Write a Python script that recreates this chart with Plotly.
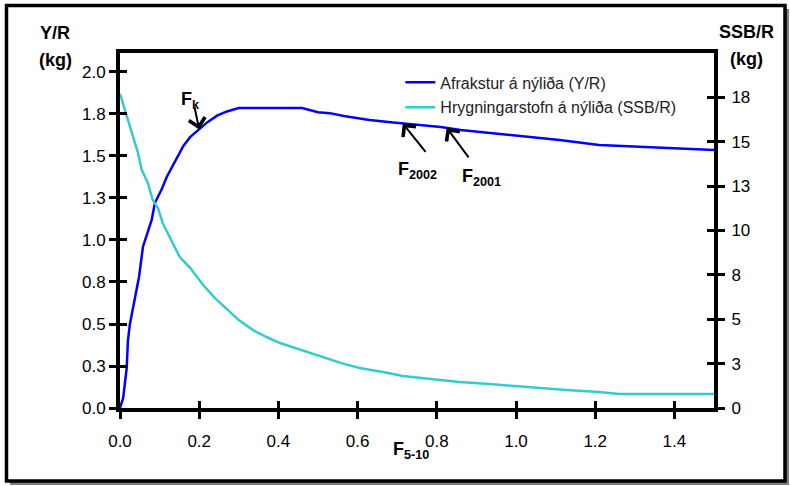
import plotly.graph_objects as go
import numpy as np

# Fishing mortality F(5-10)
f_yr = [0.0, 0.008, 0.017, 0.02, 0.025, 0.035, 0.048, 0.058, 0.07, 0.08, 0.088,
        0.105, 0.118, 0.13, 0.146, 0.16, 0.177, 0.20, 0.22, 0.245, 0.27, 0.30,
        0.46, 0.50, 0.53, 0.565, 0.60, 0.63, 0.69, 0.73, 0.81, 0.86, 0.97,
        1.11, 1.21, 1.40, 1.50]
# Yield per recruit (kg)
yr = [0.0, 0.06, 0.24, 0.40, 0.50, 0.62, 0.78, 0.96, 1.05, 1.12, 1.22,
      1.30, 1.375, 1.43, 1.505, 1.56, 1.612, 1.658, 1.70, 1.74, 1.765, 1.786,
      1.786, 1.76, 1.755, 1.738, 1.726, 1.714, 1.70, 1.69, 1.673, 1.655, 1.63,
      1.595, 1.565, 1.547, 1.536]

f_ssb = [0.0, 0.02, 0.033, 0.045, 0.055, 0.07, 0.083, 0.096, 0.108, 0.13, 0.151,
         0.177, 0.21, 0.24, 0.277, 0.30, 0.336, 0.37, 0.404, 0.446, 0.47, 0.513,
         0.563, 0.605, 0.664, 0.714, 0.782, 0.81, 0.857, 0.933, 0.99, 1.05,
         1.127, 1.21, 1.26, 1.50]
# Spawning stock biomass per recruit (kg)
ssb = [17.7, 16.2, 15.3, 14.4, 13.4, 12.7, 11.7, 11.26, 10.4, 9.46, 8.5,
       7.9, 6.93, 6.19, 5.4, 4.95, 4.39, 4.0, 3.66, 3.35, 3.15, 2.85,
       2.5, 2.25, 2.03, 1.8, 1.63, 1.58, 1.46, 1.35, 1.24, 1.13,
       1.01, 0.90, 0.79, 0.79]

x_ticks = [0.0, 0.2, 0.4, 0.6, 0.8, 1.0, 1.2, 1.4]
x_ticktext = ["0.0", "0.2", "0.4", "0.6", "0.8", "1.0", "1.2", "1.4"]
y_ticks = [0.0, 0.25, 0.5, 0.75, 1.0, 1.25, 1.5, 1.75, 2.0]
y_ticktext = ["0.0", "0.3", "0.5", "0.8", "1.0", "1.3", "1.5", "1.8", "2.0"]
y2_ticks = [0.0, 2.5, 5.0, 7.5, 10.0, 12.5, 15.0, 17.5]
y2_ticktext = ["0", "3", "5", "8", "10", "13", "15", "18"]

# Reference points marked on the yield curve
ref_names = ["F<sub>k</sub>", "F<sub>2002</sub>", "F<sub>2001</sub>"]
ref_f = [0.20, 0.714, 0.825]

names = ["Afrakstur á nýliða (Y/R)", "Hrygningarstofn á nýliða (SSB/R)"]

FONT = "Liberation Sans, Arial, sans-serif"
BLUE = "#0000FF"
CYAN = "#33CCCC"

fig = go.Figure()
fig.add_trace(go.Scatter(x=f_yr, y=yr, mode="lines", name=names[0],
                         line=dict(color=BLUE, width=2.5), legendgroup="a",
                         xaxis="x", yaxis="y"))
fig.add_trace(go.Scatter(x=f_ssb, y=ssb, mode="lines", name=names[1],
                         line=dict(color=CYAN, width=2.5), legendgroup="b",
                         xaxis="x", yaxis="y2"))
# empty traces that carry the inward tick marks
fig.add_trace(go.Scatter(x=[], y=[], xaxis="x3", yaxis="y3", showlegend=False, hoverinfo="skip"))
fig.add_trace(go.Scatter(x=[], y=[], xaxis="x3", yaxis="y4", showlegend=False, hoverinfo="skip"))

XR = [0, 1.5]
YR = [0, 2.113]
Y2R = [0, 20]
tickfont = dict(family=FONT, size=17, color="#000")

fig.update_layout(
    width=790, height=486,
    margin=dict(l=120, r=76, t=53, b=78),
    paper_bgcolor="white",
    plot_bgcolor="#FFFFCC",
    showlegend=True,
    legend=dict(x=0.472, y=0.965, xanchor="left", yanchor="top",
                bgcolor="rgba(0,0,0,0)", font=dict(family=FONT, size=16, color="#222"),
                traceorder="grouped", tracegroupgap=1),
    xaxis=dict(range=XR, tickvals=x_ticks, ticktext=x_ticktext, ticks="outside",
               ticklen=7, tickwidth=3, tickcolor="#000", showline=True, linewidth=4,
               linecolor="#000", mirror=True, showgrid=False, zeroline=False,
               tickfont=tickfont, ticklabelstandoff=8, anchor="y"),
    yaxis=dict(range=YR, tickvals=y_ticks, ticktext=y_ticktext, ticks="outside",
               ticklen=7, tickwidth=3, tickcolor="#000", showline=True, linewidth=4,
               linecolor="#000", showgrid=False, zeroline=False, tickfont=tickfont,
               anchor="x"),
    yaxis2=dict(range=Y2R, tickvals=y2_ticks, ticktext=y2_ticktext, ticks="outside",
                ticklen=7, tickwidth=3, tickcolor="#000", showline=True, linewidth=4,
                linecolor="#000", showgrid=False, zeroline=False, tickfont=tickfont,
                overlaying="y", side="right", anchor="x", ticklabelstandoff=3),
    xaxis3=dict(range=XR, tickvals=x_ticks, ticks="inside", ticklen=7, tickwidth=3,
                tickcolor="#000", showticklabels=False, showline=False, showgrid=False,
                zeroline=False, overlaying="x", anchor="y"),
    yaxis3=dict(range=YR, tickvals=y_ticks, ticks="inside", ticklen=7, tickwidth=3,
                tickcolor="#000", showticklabels=False, showline=False, showgrid=False,
                zeroline=False, overlaying="y", anchor="x"),
    yaxis4=dict(range=Y2R, tickvals=y2_ticks, ticks="inside", ticklen=7, tickwidth=3,
                tickcolor="#000", showticklabels=False, showline=False, showgrid=False,
                zeroline=False, overlaying="y", side="right", anchor="x"),
)

# Outer chart frame with drop shadow (paper coords relative to the plot area)
W, H = 594.0, 355.0
def px(xp):
    return (xp - 120) / W
def py(yp):
    return (408 - yp) / H

fig.add_shape(type="rect", xref="paper", yref="paper", layer="below",
              x0=px(10), x1=px(789), y0=py(485), y1=py(9),
              fillcolor="#7f7f7f", line=dict(width=0))
fig.add_shape(type="rect", xref="paper", yref="paper", layer="below",
              x0=px(6.5), x1=px(785), y0=py(481), y1=py(5.5),
              fillcolor="white", line=dict(color="#000", width=3.5))

ann = []
# Axis titles
bold = dict(family=FONT, size=18, color="#000")
for txt, xp, yp in [("<b>Y/R</b>", 55, 33), ("<b>(kg)</b>", 55, 60),
                    ("<b>SSB/R</b>", 746, 32), ("<b>(kg)</b>", 746, 59)]:
    ann.append(dict(text=txt, xref="paper", yref="paper", x=px(xp), y=py(yp),
                    xanchor="center", yanchor="middle", showarrow=False, font=bold))
ann.append(dict(text="<b>F<sub>5-10</sub></b>", xref="paper", yref="paper",
                x=px(391), y=py(450), xanchor="left", yanchor="middle",
                showarrow=False, font=bold))

# Arrows pointing at the reference F values on the yield curve
tails = [(-5, -24), (24, 30), (23, 31)]
label_pos = [(179, 100), (396, 170), (460, 177)]
for name, fv, (axp, ayp), (lx, ly) in zip(ref_names, ref_f, tails, label_pos):
    yv = float(np.interp(fv, f_yr, yr))
    ann.append(dict(text="", x=fv, y=yv, xref="x", yref="y", ax=axp, ay=ayp,
                    showarrow=True, arrowhead=4, arrowsize=1.6, arrowwidth=2,
                    arrowcolor="#000", standoff=0))
    ann.append(dict(text="<b>" + name + "</b>", xref="paper", yref="paper",
                    x=px(lx), y=py(ly), xanchor="left", yanchor="middle",
                    showarrow=False, font=bold))
fig.update_layout(annotations=ann)

fig.write_html("out.html")
